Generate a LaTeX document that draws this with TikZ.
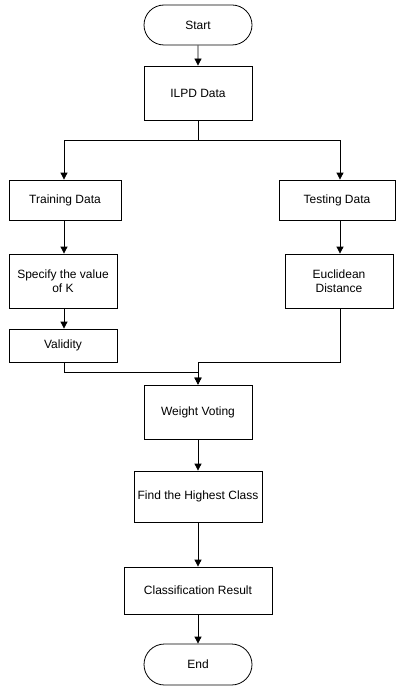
\documentclass[tikz,border=0pt]{standalone}
\usepackage{fontspec}
\setmainfont{Liberation Sans}
\usetikzlibrary{arrows.meta,shapes.misc}
\begin{document}
\begin{tikzpicture}[x=1pt,y=-1pt,
  every node/.style={font=\fontsize{12}{14}\selectfont},
  box/.style={draw, line width=0.8pt, rectangle, align=center, inner sep=0pt},
  term/.style={draw, line width=0.8pt, rounded rectangle, align=center, inner sep=0pt, minimum width=108pt},
  arr/.style={line width=0.8pt, -{Triangle[length=7pt,width=7pt]}},
  ln/.style={line width=0.8pt}]
\useasboundingbox (0,0) rectangle (396,687);
\node[term, minimum height=40pt] (start) at (198,25) {Start};
\node[box, minimum width=108pt, minimum height=54pt] (ilpd) at (198,93) {ILPD Data};
\node[box, minimum width=112pt, minimum height=40pt] (train) at (65,200) {Training Data};
\node[box, minimum width=116pt, minimum height=40pt] (test) at (337,200) {Testing Data};
\node[box, minimum width=108pt, minimum height=54pt] (spec) at (63,281) {Specify the value\\of K};
\node[box, minimum width=108pt, minimum height=54pt] (eucl) at (339,281) {Euclidean\\Distance};
\node[box, minimum width=108pt, minimum height=33pt] (valid) at (63,345.5) {Validity};
\node[box, minimum width=108pt, minimum height=54pt] (weight) at (198,412) {Weight Voting};
\node[box, minimum width=128pt, minimum height=51pt] (find) at (198,496.5) {Find the Highest Class};
\node[box, minimum width=148pt, minimum height=47pt] (class) at (198,590.5) {Classification Result};
\node[term, minimum height=41pt] (end) at (198,664.5) {End};
\coordinate (split) at (198,140);
\coordinate (joinL) at (64,372);
\coordinate (joinR) at (340,362);
\draw[arr] (start) -- (ilpd);
\draw[ln] (ilpd.south) -- (split);
\draw[arr] (split) -| (train.north -| joinL);
\draw[arr] (split) -| (test.north -| joinR);
\draw[arr] (train.south -| joinL) -- (spec.north -| joinL);
\draw[arr] (spec.south -| joinL) -- (valid.north -| joinL);
\draw[arr] (test.south -| joinR) -- (eucl.north -| joinR);
\draw[arr] (valid.south -| joinL) -- (joinL) -| (weight.north);
\draw[arr] (eucl.south -| joinR) -- (joinR) -| (weight.north);
\draw[arr] (weight) -- (find);
\draw[arr] (find) -- (class);
\draw[arr] (class) -- (end);
\end{tikzpicture}
\end{document}
